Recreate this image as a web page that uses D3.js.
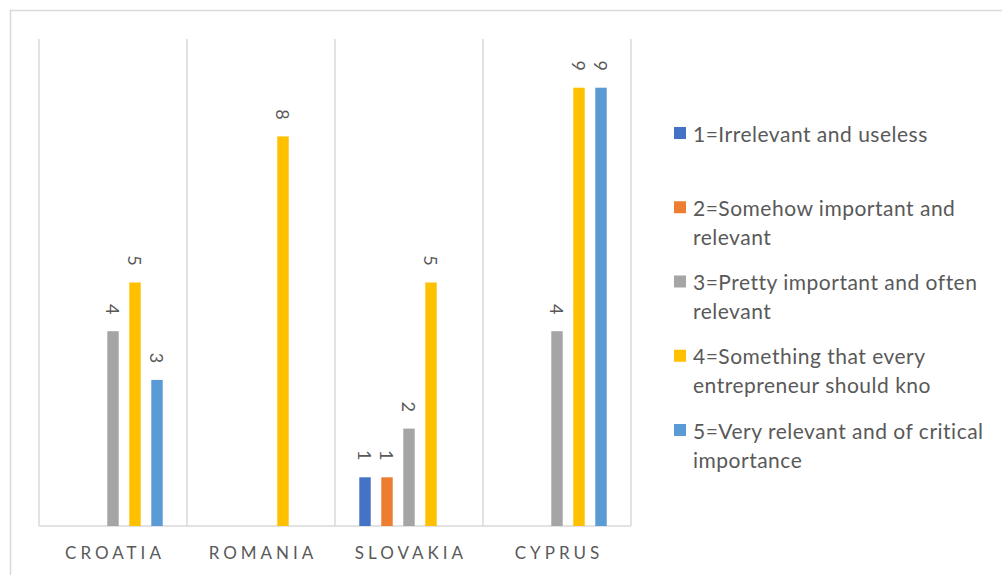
<!DOCTYPE html>
<html>
<head>
<meta charset="utf-8">
<script src="https://cdn.jsdelivr.net/npm/d3@7"></script>
<style>
  body { margin: 0; background: #fff; }
  svg { display: block; font-family: Lato, "Open Sans", sans-serif; }
</style>
</head>
<body>
<div id="chart"></div>
<script>
// chart data
var categories = ["CROATIA", "ROMANIA", "SLOVAKIA", "CYPRUS"];
var seriesNames = [
  ["1=Irrelevant and useless"],
  ["2=Somehow important and", "relevant"],
  ["3=Pretty important and often", "relevant"],
  ["4=Something that every", "entrepreneur should kno"],
  ["5=Very relevant and of critical", "importance"]
];
var s1 = [null, null, 1, null];
var s2 = [null, null, 1, null];
var s3 = [4, null, 2, 4];
var s4 = [5, 8, 5, 9];
var s5 = [3, null, null, 9];
var seriesValues = [s1, s2, s3, s4, s5];
var colors = ["#4472C4", "#ED7D31", "#A5A5A5", "#FFC000", "#5B9BD5"];

var width = 1002, height = 575;
var plot = {left: 39, right: 631, top: 39, bottom: 526};

var svg = d3.select("#chart").append("svg")
    .attr("width", width)
    .attr("height", height);

// chart border
svg.append("rect")
    .attr("x", 10.5).attr("y", 10.5)
    .attr("width", 1010).attr("height", 600)
    .attr("fill", "none")
    .attr("stroke", "#D9D9D9")
    .attr("stroke-width", 1.5);

// scales
var x0 = d3.scaleBand()
    .domain(categories)
    .range([plot.left, plot.right]);

var x1 = d3.scaleBand()
    .domain(d3.range(seriesValues.length))
    .range([19, x0.bandwidth() - 19])
    .paddingInner(0.48)
    .paddingOuter(0.24);

var y = d3.scaleLinear()
    .domain([0, 10])
    .range([plot.bottom, plot.top]);

// vertical category gridlines
var gridX = categories.map(c => x0(c)).concat([x0.range()[1]]);
svg.append("g").selectAll("line")
    .data(gridX)
    .enter().append("line")
    .attr("x1", d => d).attr("x2", d => d)
    .attr("y1", plot.top).attr("y2", plot.bottom)
    .attr("stroke", "#D9D9D9")
    .attr("stroke-width", 1.5);

// baseline
svg.append("line")
    .attr("x1", plot.left).attr("x2", plot.right)
    .attr("y1", plot.bottom).attr("y2", plot.bottom)
    .attr("stroke", "#D9D9D9")
    .attr("stroke-width", 1.5);

// bars + labels
var flat = [];
seriesValues.forEach((vals, si) => {
  vals.forEach((v, ci) => {
    if (v != null) flat.push({s: si, c: categories[ci], v: v});
  });
});

var gBars = svg.append("g");
gBars.selectAll("rect")
    .data(flat)
    .enter().append("rect")
    .attr("x", d => x0(d.c) + x1(d.s))
    .attr("y", d => y(d.v))
    .attr("width", x1.bandwidth())
    .attr("height", d => y(0) - y(d.v))
    .attr("fill", d => colors[d.s]);

gBars.selectAll("text")
    .data(flat)
    .enter().append("text")
    .attr("transform", d => "translate(" + (x0(d.c) + x1(d.s) + x1.bandwidth() / 2) + "," + (y(d.v) - 22) + ") rotate(90)")
    .attr("text-anchor", "middle")
    .attr("dominant-baseline", "central")
    .attr("font-size", 18)
    .attr("fill", "#595959")
    .text(d => d.v);

// category labels
svg.append("g").selectAll("text")
    .data(categories)
    .enter().append("text")
    .attr("x", d => x0(d) + x0.bandwidth() / 2 + 2)
    .attr("y", 559)
    .attr("text-anchor", "middle")
    .attr("font-size", 17)
    .attr("letter-spacing", 4)
    .attr("fill", "#595959")
    .text(d => d);

// legend
var legY = d3.scaleLinear().domain([0, 4]).range([133, 430]);
var leg = svg.append("g").selectAll("g")
    .data(seriesNames)
    .enter().append("g")
    .attr("transform", (d, i) => "translate(674," + legY(i) + ")");

leg.append("rect")
    .attr("x", 0).attr("y", -6)
    .attr("width", 12).attr("height", 12)
    .attr("fill", (d, i) => colors[i]);

leg.append("text")
    .attr("font-size", 21)
    .attr("letter-spacing", 0.5)
    .attr("fill", "#595959")
    .selectAll("tspan")
    .data(d => d)
    .enter().append("tspan")
    .attr("x", 19)
    .attr("y", (d, i) => i * 29)
    .attr("dominant-baseline", "central")
    .text(d => d);
</script>
</body>
</html>
